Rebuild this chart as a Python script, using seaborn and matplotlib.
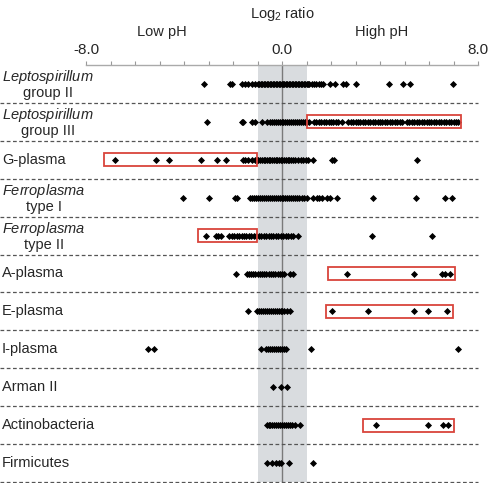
import pandas as pd
import matplotlib.pyplot as plt
import matplotlib.patches as mpatches
import seaborn as sns

# Grupos (filas, de arriba a abajo)
groups = ["Leptospirillum group II", "Leptospirillum group III", "G-plasma",
          "Ferroplasma type I", "Ferroplasma type II", "A-plasma", "E-plasma",
          "I-plasma", "Arman II", "Actinobacteria", "Firmicutes"]
labels = ["$\\mathit{Leptospirillum}$\ngroup II", "$\\mathit{Leptospirillum}$\ngroup III",
          "G-plasma", "$\\mathit{Ferroplasma}$\ntype I", "$\\mathit{Ferroplasma}$\ntype II",
          "A-plasma", "E-plasma", "I-plasma", "Arman II", "Actinobacteria", "Firmicutes"]

lepto_ii = [-3.18, -2.12, -2.04, -1.62, -1.5, -1.4, -1.22, -1.12,
            -0.98, -0.92, -0.86, -0.8, -0.74, -0.68, -0.62, -0.56, -0.5, -0.44, -0.38,
            -0.32, -0.26, -0.2, -0.14, -0.08, -0.02, 0.04, 0.1, 0.16, 0.22, 0.28, 0.34,
            0.4, 0.46, 0.52, 0.58, 0.64, 0.7, 0.76, 0.82, 0.88, 0.94, 1.0, 1.06, 1.12,
            1.24, 1.32, 1.4, 1.5, 1.6, 1.68, 1.96, 2.16, 2.5, 2.6, 3.0, 4.37, 4.94, 5.24, 6.97]
lepto_iii = [-3.06, -1.63, -1.58, -1.22, -1.1, -0.82, -0.6, -0.5, -0.42, -0.34, -0.26,
             -0.18, -0.1, -0.02, 0.06, 0.14, 0.22, 0.3, 0.38, 0.46, 0.54, 0.62, 0.7, 0.78,
             0.86, 0.94, 1.02, 1.1, 1.3, 1.4, 1.5, 1.6, 1.7, 1.8, 1.9, 2.0, 2.1, 2.2, 2.3,
             2.45, 2.7, 2.8, 2.9, 3.0, 3.1, 3.2, 3.3, 3.4, 3.5, 3.6, 3.7, 3.8, 3.9, 4.0,
             4.1, 4.2, 4.3, 4.4, 4.5, 4.6, 4.7, 4.8, 4.9, 5.1, 5.2, 5.3, 5.4, 5.5, 5.6,
             5.7, 5.8, 5.9, 6.0, 6.1, 6.2, 6.3, 6.4, 6.5, 6.6, 6.7, 6.8, 6.9, 7.0, 7.1, 7.18]
g_plasma = [-6.82, -5.14, -4.61, -3.31, -2.65, -2.29, -1.59, -1.51, -1.39, -1.22,
            -1.1, -1.03, -0.96, -0.89, -0.82, -0.75, -0.68, -0.61, -0.54, -0.47, -0.4,
            -0.33, -0.26, -0.19, -0.12, -0.05, 0.02, 0.09, 0.16, 0.23, 0.3, 0.37, 0.44,
            0.55, 0.66, 0.76, 0.86, 0.96, 1.05, 1.27, 2.04, 2.12, 5.51]
ferro_i = [-4.04, -2.98, -1.92, -1.84, -1.31, -1.22, -1.14, -1.06, -0.98, -0.9, -0.82,
           -0.74, -0.66, -0.58, -0.5, -0.42, -0.34, -0.26, -0.18, -0.1, -0.02, 0.06,
           0.14, 0.22, 0.3, 0.38, 0.46, 0.54, 0.62, 0.7, 0.8, 0.9, 1.0, 1.27, 1.43,
           1.51, 1.63, 1.84, 1.96, 2.24, 3.71, 5.47, 6.65, 6.94]
ferro_ii = [-3.1, -2.69, -2.61, -2.49, -2.15, -2.05, -1.95, -1.85, -1.75, -1.65, -1.55,
            -1.45, -1.35, -1.25, -1.15, -1.05, -0.95, -0.85, -0.75, -0.65, -0.55, -0.45,
            -0.35, -0.25, -0.15, -0.05, 0.05, 0.15, 0.25, 0.35, 0.45, 0.65, 3.67, 6.12]
a_plasma = [-1.88, -1.43, -1.35, -1.27, -1.18, -1.1, -1.0, -0.9, -0.8, -0.72, -0.64,
            -0.55, -0.45, -0.36, -0.27, -0.18, -0.09, 0.0, 0.08, 0.33, 0.45,
            2.65, 5.39, 6.53, 6.65, 6.86]
e_plasma = [-1.39, -1.02, -0.94, -0.86, -0.78, -0.7, -0.62, -0.54, -0.46, -0.38, -0.3,
            -0.22, -0.14, -0.06, 0.02, 0.1, 0.2, 0.33, 2.04, 3.51, 5.39, 5.96, 6.73]
i_plasma = [-5.47, -5.22, -0.87, -0.65, -0.57, -0.49, -0.41, -0.33, -0.25, -0.17,
            -0.09, -0.01, 0.07, 0.15, 1.17, 7.18]
arman_ii = [-0.38, -0.04, 0.19]
actino = [-0.63, -0.55, -0.47, -0.39, -0.31, -0.23, -0.15, -0.07, 0.01, 0.09, 0.17,
          0.25, 0.33, 0.41, 0.52, 0.73, 3.84, 5.96, 6.57, 6.78]
firmi = [-0.6, -0.42, -0.24, -0.11, -0.05, 0.3, 1.28]

values = [lepto_ii, lepto_iii, g_plasma, ferro_i, ferro_ii, a_plasma, e_plasma,
          i_plasma, arman_ii, actino, firmi]

# Rangos resaltados (grupo, desde, hasta)
box_groups = ["Leptospirillum group III", "G-plasma", "Ferroplasma type II",
              "A-plasma", "E-plasma", "Actinobacteria"]
box_lo = [1.02, -7.27, -3.43, 1.86, 1.8, 3.31]
box_hi = [7.31, -1.02, -1.02, 7.06, 6.98, 7.02]

df = pd.DataFrame({"group": [g for g, v in zip(groups, values) for _ in v],
                   "log2": [x for v in values for x in v]})

sns.set_style("white")
plt.rcParams["font.family"] = ["Liberation Sans", "DejaVu Sans"]
plt.rcParams["mathtext.fontset"] = "custom"
plt.rcParams["mathtext.rm"] = "Liberation Sans"
plt.rcParams["mathtext.it"] = "Liberation Sans:italic"
plt.rcParams["font.size"] = 10.5

fig = plt.figure(figsize=(4.88, 4.83), dpi=100)
ax = fig.add_axes([86 / 488, 1 / 483, 392 / 488, 417 / 483])

# banda gris +-1 y linea en cero
ax.axvspan(-1, 1, color="#d9dcdf", zorder=0, lw=0)
ax.axvline(0, color="#7a7a7a", lw=1, zorder=1)

sns.stripplot(data=df, x="log2", y="group", order=groups, jitter=False,
              color="black", marker="D", size=3.6, linewidth=0, ax=ax, zorder=3)

ax.set_xlim(-8, 8)
ax.set_ylim(10.5, -0.5)
ax.set_xlabel("")
ax.set_ylabel("")
ax.tick_params(left=False, labelleft=False)

# eje superior
ax.xaxis.tick_top()
ax.set_xticks(range(-8, 9))
ax.set_xticklabels(["-8.0" if t == -8 else "0.0" if t == 0 else "8.0" if t == 8 else ""
                    for t in range(-8, 9)])
ax.tick_params(axis="x", direction="out", length=3, color="#999999", pad=3,
               labelsize=11)
for s in ["left", "right", "bottom"]:
    ax.spines[s].set_visible(False)
ax.spines["top"].set_color("#aaaaaa")
ax.spines["top"].set_linewidth(1)

# lineas discontinuas entre filas
for i in range(len(groups)):
    ax.axhline(i + 0.5, xmin=-86 / 392, xmax=1, color="#555555", lw=0.9,
               ls=(0, (3, 2)), clip_on=False, zorder=2)

# cajas rojas
for g, lo, hi in zip(box_groups, box_lo, box_hi):
    yi = groups.index(g)
    ax.add_patch(mpatches.Rectangle((lo, yi - 0.17), hi - lo, 0.34, fill=False,
                                    edgecolor="#d9443c", lw=1.3, zorder=4))

# etiquetas de filas
ytr = ax.get_yaxis_transform()
for i, lab in enumerate(labels):
    ax.text(-84 / 392, i, lab, transform=ytr, ha="left", va="center",
            multialignment="center", linespacing=1.0, fontsize=10.5)

# titulos
fig.text(282 / 488, 1 - 14 / 483, "Log$_2$ ratio", ha="center", va="center", fontsize=10.5)
fig.text(162 / 488, 1 - 32 / 483, "Low pH", ha="center", va="center", fontsize=10.5)
fig.text(382 / 488, 1 - 32 / 483, "High pH", ha="center", va="center", fontsize=10.5)

plt.savefig("out.png", dpi=100)
